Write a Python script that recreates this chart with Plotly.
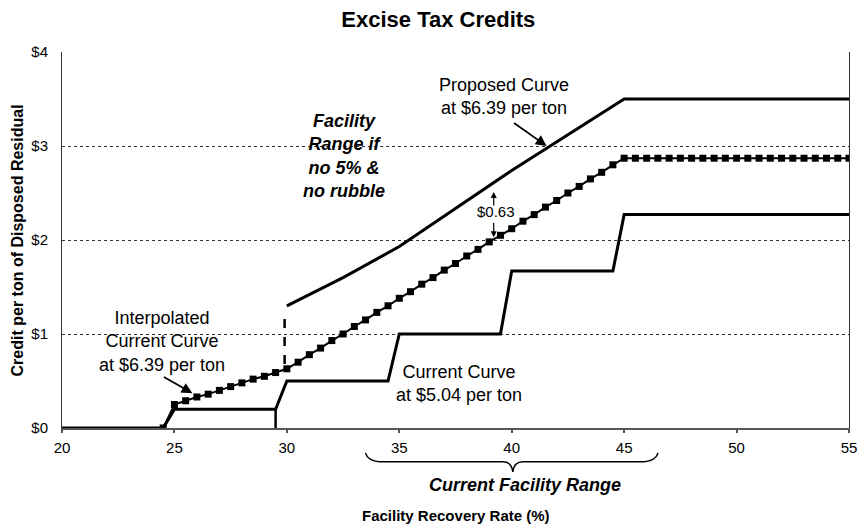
import plotly.graph_objects as go

# recovery rate (%) grid for the interpolated curve, every half point
interp_x = [24.5, 25, 25.5, 26, 26.5, 27, 27.5, 28, 28.5, 29, 29.5, 30,
            30.5, 31, 31.5, 32, 32.5, 33, 33.5, 34, 34.5, 35, 35.5, 36,
            36.5, 37, 37.5, 38, 38.5, 39, 39.5, 40, 40.5, 41, 41.5, 42,
            42.5, 43, 43.5, 44, 44.5, 45, 45.5, 46, 46.5, 47, 47.5, 48,
            48.5, 49, 49.5, 50, 50.5, 51, 51.5, 52, 52.5, 53, 53.5, 54,
            54.5, 55]
interp_y = [0.00, 0.25, 0.29, 0.33, 0.36, 0.40, 0.44, 0.48, 0.52, 0.55, 0.59, 0.63,
            0.70, 0.78, 0.85, 0.93, 1.00, 1.08, 1.15, 1.23, 1.30, 1.38, 1.45, 1.53,
            1.60, 1.68, 1.75, 1.83, 1.90, 1.98, 2.05, 2.12, 2.20, 2.27, 2.35, 2.42,
            2.50, 2.57, 2.65, 2.72, 2.80, 2.87, 2.87, 2.87, 2.87, 2.87, 2.87, 2.87,
            2.87, 2.87, 2.87, 2.87, 2.87, 2.87, 2.87, 2.87, 2.87, 2.87, 2.87, 2.87,
            2.87, 2.87]

current_x = [20, 24.5, 25, 29.5, 30, 34.5, 35, 39.5, 40, 44.5, 45, 55]
current_y = [0, 0, 0.2, 0.2, 0.5, 0.5, 1.0, 1.0, 1.67, 1.67, 2.27, 2.27]

proposed_x = [30, 32.5, 35, 40, 45, 55]
proposed_y = [1.30, 1.60, 1.93, 2.74, 3.5, 3.5]

y_ticks = [0, 1, 2, 3, 4]
y_tick_labels = ["$0", "$1", "$2", "$3", "$4"]
x_ticks = [20, 25, 30, 35, 40, 45, 50, 55]

FONT = "Arial, Liberation Sans, sans-serif"
X0, X1 = 20, 55


def px(x):
    # data x -> paper x
    return (x - X0) / (X1 - X0)


fig = go.Figure()

fig.add_trace(go.Scatter(x=current_x, y=current_y, mode="lines",
                         line=dict(color="black", width=3)))
fig.add_trace(go.Scatter(x=interp_x, y=interp_y, mode="lines+markers",
                         line=dict(color="black", width=2),
                         marker=dict(symbol="square", size=7, color="black")))
fig.add_trace(go.Scatter(x=proposed_x, y=proposed_y, mode="lines",
                         line=dict(color="black", width=3)))

# range markers near 30%
fig.add_shape(type="line", x0=29.5, x1=29.5, y0=0, y1=0.2, xref="x", yref="y",
              line=dict(color="black", width=2.5))
fig.add_shape(type="line", x0=29.9, x1=29.9, y0=0.68, y1=1.18, xref="x", yref="y",
              line=dict(color="black", width=2.5, dash="dash"))

# curly brace under the x axis
bx = [33.5, 33.6, 34.3, 39.6, 40.0, 40.05, 40.1, 40.5, 45.7, 46.4, 46.5]
by = [-0.066, -0.09, -0.09, -0.09, -0.09, -0.117, -0.09, -0.09, -0.09, -0.09, -0.066]
path = (f"M {px(bx[0])},{by[0]} Q {px(bx[1])},{by[1]} {px(bx[2])},{by[2]} "
        f"L {px(bx[3])},{by[3]} Q {px(bx[4])},{by[4]} {px(bx[5])},{by[5]} "
        f"Q {px(bx[6])},{by[6]} {px(bx[7])},{by[7]} "
        f"L {px(bx[8])},{by[8]} Q {px(bx[9])},{by[9]} {px(bx[10])},{by[10]}")
fig.add_shape(type="path", path=path, xref="paper", yref="paper",
              line=dict(color="black", width=1.5))

ann_font = dict(family=FONT, size=18, color="black")
fig.add_annotation(x=24.45, y=0.915, xref="x", yref="y", showarrow=False,
                   text="Interpolated<br>Current Curve<br>at $6.39 per ton",
                   font=ann_font, align="center")
fig.add_annotation(x=25.8, y=0.37, ax=-30, ay=-17, text="", showarrow=True,
                   arrowhead=2, arrowsize=1.2, arrowwidth=1.8, arrowcolor="black")

fig.add_annotation(x=37.66, y=0.473, xref="x", yref="y", showarrow=False,
                   text="Current Curve<br>at $5.04 per ton",
                   font=ann_font, align="center")

fig.add_annotation(x=39.64, y=3.53, xref="x", yref="y", showarrow=False,
                   text="Proposed Curve<br>at $6.39 per ton",
                   font=ann_font, align="center")
fig.add_annotation(x=41.55, y=3.0, ax=-34, ay=-24, text="", showarrow=True,
                   arrowhead=2, arrowsize=1.2, arrowwidth=1.8, arrowcolor="black")

fig.add_annotation(x=32.55, y=2.89, xref="x", yref="y", showarrow=False,
                   text="<b><i>Facility<br>Range if<br>no 5% &<br>no rubble</i></b>",
                   font=ann_font, align="center")

fig.add_annotation(x=39.29, y=2.30, xref="x", yref="y", showarrow=False,
                   text="$0.63", font=dict(family=FONT, size=15, color="black"))
fig.add_annotation(x=39.2, y=2.51, ax=0, ay=15, text="", showarrow=True,
                   arrowhead=2, arrowsize=1, arrowwidth=1.2, arrowcolor="black")
fig.add_annotation(x=39.2, y=2.03, ax=0, ay=-16, text="", showarrow=True,
                   arrowhead=2, arrowsize=1, arrowwidth=1.2, arrowcolor="black")

fig.add_annotation(x=0.5887, y=-0.1516, xref="paper", yref="paper", showarrow=False,
                   xanchor="center", yanchor="middle",
                   text="<b><i>Current Facility Range</i></b>",
                   font=dict(family=FONT, size=18, color="black"))
fig.add_annotation(x=0.5006, y=-0.234, xref="paper", yref="paper", showarrow=False,
                   xanchor="center", yanchor="middle",
                   text="<b>Facility Recovery Rate (%)</b>",
                   font=dict(family=FONT, size=15, color="black"))
fig.add_annotation(x=-0.0566, y=0.5, xref="paper", yref="paper", showarrow=False,
                   xanchor="center", yanchor="middle",
                   textangle=-90, text="<b>Credit per ton of Disposed Residual</b>",
                   font=dict(family=FONT, size=16, color="black"))

fig.update_layout(
    width=868, height=528,
    margin=dict(l=62, r=11, t=52, b=100),
    paper_bgcolor="white", plot_bgcolor="white",
    showlegend=False,
    font=dict(family=FONT, size=15, color="black"),
    title=dict(text="<b>Excise Tax Credits</b>", x=0.505, xanchor="center",
               y=0.964, yanchor="middle", font=dict(family=FONT, size=22)),
    xaxis=dict(range=[X0, X1], tickvals=x_ticks, showgrid=False, zeroline=False,
               showline=True, linecolor="#555", linewidth=1.5,
               ticks="outside", ticklen=3, tickcolor="#555", tickwidth=1.5,
               ticklabelstandoff=2, tickfont=dict(size=15)),
    yaxis=dict(range=[0, 4], tickvals=y_ticks, ticktext=y_tick_labels,
               showgrid=True, gridcolor="#333", gridwidth=1, griddash="dot",
               zeroline=False, showline=True, mirror=True, linecolor="#333",
               linewidth=1, ticks="", ticklabelstandoff=10,
               tickfont=dict(size=15)),
)

# drop the default page margin so the 868x528 figure fills the window
fig.write_html("out.html", config={"displayModeBar": False},
               post_script="document.body.style.margin='0';")
